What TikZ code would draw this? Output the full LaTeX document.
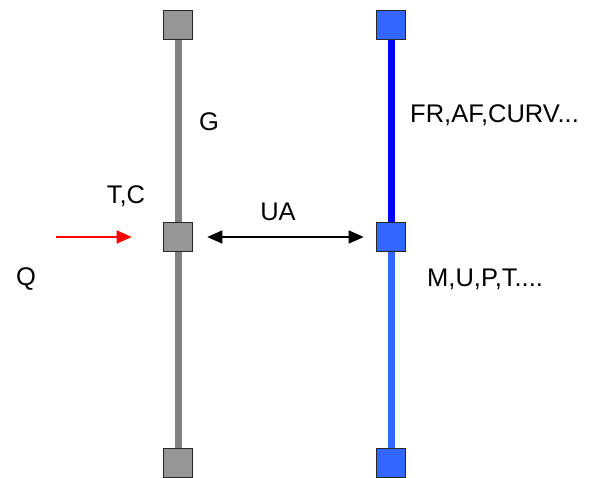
\documentclass[tikz,border=0pt]{standalone}
\usepackage{fontspec}
\setmainfont{Liberation Sans}
\usepackage{tikz}
\usetikzlibrary{arrows.meta}
\definecolor{graycolor}{RGB}{128,128,128}
\definecolor{grayfill}{RGB}{150,150,150}
\definecolor{bluecolor}{RGB}{0,0,255}
\definecolor{lightbluecolor}{RGB}{51,102,255}

\begin{document}
\begin{tikzpicture}[x=1pt, y=-1pt, >={Triangle[length=15pt,width=13pt]},
  cell/.style={draw=black!85, line width=1.6pt, minimum size=29pt, inner sep=0pt},
  lbl/.style={font=\fontsize{25.5}{28}\selectfont, inner sep=0pt}]
\useasboundingbox (0,0) rectangle (594,478);

% Define nodes for the two columns
\node[cell, fill=grayfill] (G1) at (178,25) {};
\node[cell, fill=grayfill] (G2) at (178,237) {};
\node[cell, fill=grayfill] (G3) at (178,463) {};
\node[cell, fill=lightbluecolor] (B1) at (391,25) {};
\node[cell, fill=lightbluecolor] (B2) at (391,237) {};
\node[cell, fill=lightbluecolor] (B3) at (391,463) {};

% Draw the bars
\draw[graycolor, line width=7pt] (G1) -- (G2);
\draw[graycolor, line width=7pt] (G2) -- (G3);
\draw[bluecolor, line width=7pt] (B1) -- (B2);
\draw[lightbluecolor, line width=7pt] (B2) -- (B3);

% Labels
\node[lbl, anchor=base] (lG) at (209,131) {G};
\node[lbl, anchor=base west] (lFR) at (410,123) {FR,AF,CURV...};
\node[lbl, anchor=base] (lTC) at (126,204) {T,C};
\node[lbl, anchor=base] (lUA) at (278,221) {UA};
\node[lbl, anchor=base] (lQ) at (26,286) {Q};
\node[lbl, anchor=base west] (lM) at (427,287) {M,U,P,T....};

% Heat input and exchange
\coordinate (Qin) at (56,237);
\draw[->, red, line width=1.5pt, shorten >=31pt] (Qin) -- (G2.west);
\draw[<->, line width=1.5pt, shorten <=14pt, shorten >=12pt] (G2.east) -- (B2.west);
\end{tikzpicture}
\end{document}
